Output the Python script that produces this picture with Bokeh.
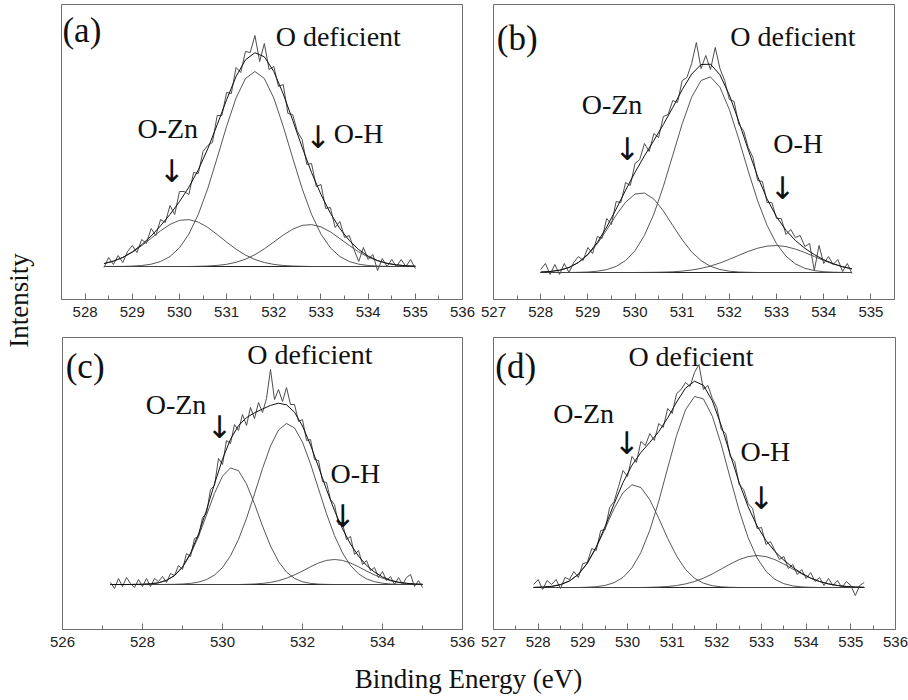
import numpy as np
from math import pi
from bokeh.plotting import figure
from bokeh.models import Range1d, FixedTicker, Label
from bokeh.layouts import row, column
from bokeh.embed import file_html
from bokeh.resources import INLINE

# ---------------- data (binding energy in eV, intensity in arbitrary units) ----------------
# panel (a)
a_fit_start, a_fit_step = 528.4, 0.2
a_ozn = [2.9, 5.3, 9.0, 14.2, 20.8, 28.2, 35.7, 42.1, 46.1, 46.9, 44.4, 39.1, 32.0, 24.4, 17.3, 11.4, 7.0,
         4.0, 2.1, 1.0, 0.5, 0.2, 0, 0, 0, 0, 0, 0, 0, 0, 0, 0, 0, 0]
a_odef = [0, 0.1, 0.1, 0.4, 1.0, 2.3, 5.0, 10.0, 18.7, 32.4, 52.1, 78.0, 108.6, 140.2, 168.5, 188.0, 195.0,
          188.0, 168.5, 140.2, 108.6, 78.0, 52.1, 32.4, 18.7, 10.0, 5.0, 2.3, 1.0, 0.4, 0.1, 0, 0, 0]
a_oh = [0, 0, 0, 0, 0, 0, 0, 0, 0, 0, 0.2, 0.5, 1.1, 2.2, 4.2, 7.3, 11.8, 17.7, 24.5, 31.4, 37.3, 41.1,
        41.9, 39.6, 34.6, 28.0, 21.0, 14.6, 9.4, 5.6, 3.1, 1.6, 0.7, 0.3]
a_raw_start, a_raw_step = 528.4, 0.1
a_raw = [-1, 9, 2, 11, 4, 15, 21, 14, 27, 23, 38, 31, 47, 44, 61, 52, 75, 75, 72, 94,
         93, 115, 121, 124, 151, 151, 174, 173, 199, 194, 215, 214, 231, 205, 223, 197, 200, 180, 182, 153,
         152, 135, 127, 102, 103, 80, 82, 58, 59, 39, 45, 29, 31, 17, 5, 19, 7, 12, -4, 8,
         0, 7, 0, 7, 0, 7, -2]

# panel (b)
b_fit_start, b_fit_step = 528.0, 0.2
b_ozn = [0.4, 1.0, 2.3, 5.0, 9.9, 17.7, 28.7, 42.6, 57.4, 70.3, 78.4, 79.5, 73.4, 61.6, 47.0, 32.7, 20.6,
         11.9, 6.2, 3.0, 1.3, 0.5, 0.2, 0, 0, 0, 0, 0, 0, 0, 0, 0, 0, 0]
b_odef = [0, 0, 0, 0, 0.2, 0.5, 1.3, 2.9, 6.1, 12.0, 21.8, 37.1, 58.5, 86.0, 117.3, 148.7, 175.3, 192.0,
          195.6, 185.2, 162.9, 133.3, 101.3, 71.6, 47.0, 28.7, 16.3, 8.6, 4.2, 1.9, 0.8, 0.3, 0.1, 0]
b_oh = [0, 0, 0, 0, 0, 0, 0, 0, 0, 0, 0, 0.1, 0.2, 0.4, 0.7, 1.4, 2.5, 4.1, 6.5, 9.5, 13.2, 17.2, 21.1,
        24.3, 26.4, 27.0, 25.9, 23.4, 20.0, 16.0, 12.0, 8.5, 5.7, 3.6]
b_raw_start, b_raw_step = 528.0, 0.1
b_raw = [3, 9, -2, 8, -2, 9, 0, 10, 16, 12, 25, 19, 36, 34, 54, 48, 71, 70, 90, 87,
         109, 113, 129, 121, 139, 135, 156, 158, 172, 170, 192, 195, 209, 230, 204, 217, 203, 225, 204, 192,
         173, 171, 148, 142, 125, 115, 92, 91, 70, 70, 54, 54, 38, 43, 35, 37, 26, 29, 2, 27,
         9, 16, 8, 13, 1, 9, -1]

# panel (c)
c_fit_start, c_fit_step = 527.2, 0.2
c_ozn = [0, 0, 0, 0.1, 0.2, 0.7, 1.7, 4.1, 8.8, 17.1, 30.1, 48.0, 69.5, 91.2, 108.3, 116.6, 113.8, 100.6,
         80.6, 58.5, 38.5, 23.0, 12.4, 6.1, 2.7, 1.1, 0.4, 0.1, 0, 0, 0, 0, 0, 0, 0, 0, 0, 0, 0, 0]
c_odef = [0, 0, 0, 0, 0, 0, 0, 0.1, 0.2, 0.5, 1.1, 2.4, 4.9, 9.5, 17.0, 28.7, 45.1, 66.1, 90.6, 115.9,
          138.5, 154.5, 161.0, 156.6, 142.3, 120.7, 95.7, 70.8, 48.9, 31.6, 19.0, 10.7, 5.6, 2.8, 1.3,
          0.5, 0.2, 0.1, 0, 0]
c_oh = [0, 0, 0, 0, 0, 0, 0, 0, 0, 0, 0, 0, 0, 0, 0, 0, 0, 0.2, 0.5, 1.1, 2.1, 3.8, 6.3, 9.6, 13.5, 17.7,
        21.5, 24.1, 25.0, 24.1, 21.5, 17.7, 13.5, 9.6, 6.3, 3.8, 2.1, 1.1, 0.5, 0.2]
c_raw_start, c_raw_step = 527.2, 0.1
c_raw = [2, -4, 6, -2, 7, 1, -3, 5, -2, 6, -2, 6, 3, 8, 2, 11, 9, 19, 15, 31,
         28, 46, 48, 67, 71, 95, 99, 126, 120, 144, 141, 160, 154, 170, 159, 177, 166, 182, 172, 186,
         215, 185, 195, 183, 197, 180, 180, 163, 165, 144, 145, 125, 124, 103, 102, 85, 80, 60, 61, 45,
         48, 30, 34, 20, 24, 14, 17, 7, 13, 4, 8, 0, 7, 0, 7, 10, -2, 4, -3]

# panel (d)
d_fit_start, d_fit_step = 527.9, 0.2
d_ozn = [0.1, 0.4, 1.1, 2.9, 6.5, 13.1, 24.1, 39.8, 59.0, 78.9, 94.9, 102.7, 100.0, 87.7, 69.1, 49.1,
         31.4, 18.0, 9.3, 4.3, 1.8, 0.7, 0.2, 0, 0, 0, 0, 0, 0, 0, 0, 0, 0, 0, 0, 0, 0, 0]
d_odef = [0, 0, 0, 0, 0, 0, 0.3, 0.8, 2.1, 4.8, 10.1, 19.6, 35.0, 57.3, 86.3, 119.5, 152.1, 177.8, 191.0,
          188.6, 171.2, 142.7, 109.4, 77.0, 49.9, 29.7, 16.2, 8.1, 3.8, 1.6, 0.6, 0.2, 0, 0, 0, 0, 0, 0]
d_oh = [0, 0, 0, 0, 0, 0, 0, 0, 0, 0, 0, 0, 0, 0.2, 0.5, 1.0, 2.0, 3.6, 6.0, 9.3, 13.6, 18.5, 23.5, 27.9,
        30.9, 32.0, 30.9, 27.9, 23.5, 18.5, 13.6, 9.3, 6.0, 3.6, 2.0, 1.0, 0.5, 0.2]
d_raw_start, d_raw_step = 527.9, 0.1
d_raw = [3, 8, -2, 7, 3, 8, -1, 10, 8, 16, 10, 24, 25, 39, 37, 57, 58, 80, 86, 101,
         117, 111, 131, 125, 146, 142, 154, 147, 164, 160, 179, 174, 194, 198, 205, 201, 215, 223, 198, 202,
         189, 180, 158, 154, 131, 126, 103, 98, 84, 79, 59, 60, 43, 46, 37, 28, 31, 19, 23, 13,
         18, 9, 15, 6, 10, 2, 9, 2, 7, 0, 6, 2, -8, 2, 5]

# axis ticks (eV)
a_major = [528, 529, 530, 531, 532, 533, 534, 535, 536]
a_minor = [528.5, 529.5, 530.5, 531.5, 532.5, 533.5, 534.5, 535.5]
b_major = [527, 528, 529, 530, 531, 532, 533, 534, 535]
b_minor = [527.5, 528.5, 529.5, 530.5, 531.5, 532.5, 533.5, 534.5]
c_major = [526, 528, 530, 532, 534, 536]
c_minor = [527, 529, 531, 533, 535]
d_major = [527, 528, 529, 530, 531, 532, 533, 534, 535, 536]
d_minor = [527.5, 528.5, 529.5, 530.5, 531.5, 532.5, 533.5, 534.5, 535.5]

LBL_DEF = "O  deficient"
LBL_ZN = "O-Zn"
LBL_OH = "O-H"
ARROW = "\u2193"

# ---------------- styling / layout ----------------
SERIF = "Liberation Serif"
SANS = "Liberation Sans"
ARROW_FONT = "DejaVu Sans"
FRAME = "#6e6e6e"


def grid(start, step, n):
    return np.round(start + step * np.arange(n), 2)


def make_panel(spec):
    p = figure(width=spec["w"], height=spec["h"],
               x_range=Range1d(*spec["xr"]), y_range=Range1d(*spec["yr"]),
               output_backend="svg", toolbar_location=None, y_axis_location=None,
               min_border_left=spec["bl"], min_border_right=spec["br"],
               min_border_top=spec["bt"], min_border_bottom=spec["bb"])
    p.grid.visible = False
    p.outline_line_color = FRAME
    p.outline_line_width = 1
    p.background_fill_color = "white"
    p.border_fill_color = "white"
    ax = p.xaxis[0]
    ax.ticker = FixedTicker(ticks=spec["major"], minor_ticks=spec["minor"])
    ax.axis_line_color = FRAME
    ax.major_tick_line_color = FRAME
    ax.minor_tick_line_color = FRAME
    ax.major_tick_in = 6
    ax.major_tick_out = 0
    ax.minor_tick_in = 4
    ax.minor_tick_out = 0
    ax.major_label_standoff = 7
    ax.major_label_text_font = SANS
    ax.major_label_text_font_size = "15px"
    ax.major_label_text_color = "#222222"

    fe = grid(spec["fit_start"], spec["fit_step"], len(spec["ozn"]))
    ozn = np.array(spec["ozn"], dtype=float)
    odef = np.array(spec["odef"], dtype=float)
    oh = np.array(spec["oh"], dtype=float)
    env = ozn + odef + oh
    re = grid(spec["raw_start"], spec["raw_step"], len(spec["raw"]))

    p.line([re[0], re[-1]], [0, 0], line_color="#222222", line_width=1)
    for comp in (ozn, odef, oh):
        p.line(fe, comp, line_color="#444444", line_width=0.9)
    p.line(re, spec["raw"], line_color="#4d4d4d", line_width=1)
    p.line(fe, env, line_color="#111111", line_width=1)

    for text, x, y, kind in spec["labels"]:
        if kind == "tag":
            font, size, align = SERIF, "35px", "left"
        elif kind == "arrow":
            font, size, align = ARROW_FONT, "31px", "center"
        else:
            font, size, align = SERIF, "28px", "left"
        p.add_layout(Label(x=x, y=y, text=text, text_font=font, text_font_size=size,
                           text_color="#111111", text_align=align, text_baseline="middle"))
    return p


spec_a = dict(w=432, h=326, bl=16, br=15, bt=4, bb=27, xr=(527.5, 536), yr=(-33, 262),
              major=a_major, minor=a_minor, fit_start=a_fit_start, fit_step=a_fit_step,
              ozn=a_ozn, odef=a_odef, oh=a_oh, raw_start=a_raw_start, raw_step=a_raw_step, raw=a_raw,
              labels=[("(a)", 527.52, 236, "tag"), (LBL_DEF, 532.04, 230, "text"),
                      (LBL_ZN, 529.11, 138, "text"), (ARROW, 529.84, 96, "arrow"),
                      (ARROW, 532.94, 129.5, "arrow"), (LBL_OH, 533.27, 133, "text")])
spec_b = dict(w=431, h=326, bl=16, br=14, bt=4, bb=27, xr=(527, 535.5), yr=(-27, 268),
              major=b_major, minor=b_minor, fit_start=b_fit_start, fit_step=b_fit_step,
              ozn=b_ozn, odef=b_odef, oh=b_oh, raw_start=b_raw_start, raw_step=b_raw_step, raw=b_raw,
              labels=[("(b)", 527.07, 234, "tag"), (LBL_DEF, 532.02, 236, "text"),
                      (LBL_ZN, 528.87, 168, "text"), (ARROW, 529.84, 123.5, "arrow"),
                      (LBL_OH, 532.93, 129, "text"), (ARROW, 533.13, 85, "arrow")])
spec_c = dict(w=432, h=330, bl=17, br=15, bt=11, bb=27, xr=(526, 536), yr=(-45, 247),
              major=c_major, minor=c_minor, fit_start=c_fit_start, fit_step=c_fit_step,
              ozn=c_ozn, odef=c_odef, oh=c_oh, raw_start=c_raw_start, raw_step=c_raw_step, raw=c_raw,
              labels=[("(c)", 526.08, 218, "tag"), (LBL_DEF, 530.62, 229.7, "text"),
                      (LBL_ZN, 528.08, 180, "text"), (ARROW, 529.93, 158, "arrow"),
                      (LBL_OH, 532.7, 111.3, "text"), (ARROW, 533.01, 69, "arrow")])
spec_d = dict(w=431, h=330, bl=16, br=13, bt=11, bb=27, xr=(527, 536), yr=(-42, 250),
              major=d_major, minor=d_minor, fit_start=d_fit_start, fit_step=d_fit_step,
              ozn=d_ozn, odef=d_odef, oh=d_oh, raw_start=d_raw_start, raw_step=d_raw_step, raw=d_raw,
              labels=[("(d)", 527.04, 221, "tag"), (LBL_DEF, 530.02, 231, "text"),
                      (LBL_ZN, 528.34, 174.3, "text"), (ARROW, 529.99, 144.5, "arrow"),
                      (LBL_OH, 532.53, 136, "text"), (ARROW, 533.0, 90, "arrow")])

pa, pb, pc, pd = (make_panel(s) for s in (spec_a, spec_b, spec_c, spec_d))


def blank(w, h):
    f = figure(width=w, height=h, x_range=Range1d(0, w), y_range=Range1d(0, h),
               output_backend="svg", toolbar_location=None,
               x_axis_location=None, y_axis_location=None,
               min_border_left=0, min_border_right=0, min_border_top=0, min_border_bottom=0)
    f.grid.visible = False
    f.outline_line_color = None
    f.background_fill_color = "white"
    f.border_fill_color = "white"
    return f


ylab = blank(45, 700)
ylab.add_layout(Label(x=18.5, y=400, text="Intensity", angle=pi / 2, text_font=SERIF,
                      text_font_size="27px", text_color="#111111",
                      text_align="center", text_baseline="middle"))
xlab = blank(863, 44)
xlab.add_layout(Label(x=423, y=22, text="Binding Energy (eV)", text_font=SERIF,
                      text_font_size="27px", text_color="#111111",
                      text_align="center", text_baseline="middle"))

layout = row(ylab, column(row(pa, pb), row(pc, pd), xlab))

with open("out.html", "w") as fh:
    fh.write(file_html(layout, INLINE))
